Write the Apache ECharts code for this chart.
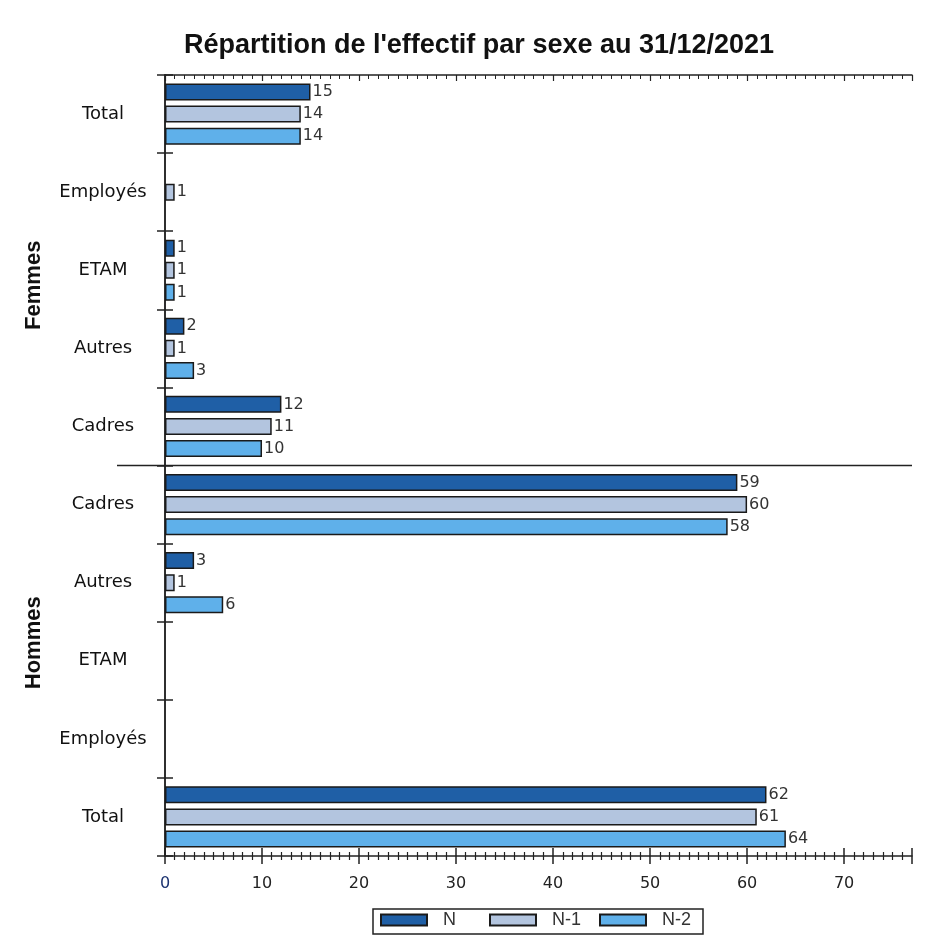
<!DOCTYPE html>
<html>
<head>
<meta charset="utf-8">
<style>
  html, body { margin: 0; padding: 0; background: #fff; }
  #chart { width: 931px; height: 940px; }
</style>
<script src="https://cdn.jsdelivr.net/npm/echarts@6/dist/echarts.min.js"></script>
</head>
<body>
<div id="chart"></div>
<script>
// categories from top to bottom
const sexes = ["Femmes", "Femmes", "Femmes", "Femmes", "Femmes", "Hommes", "Hommes", "Hommes", "Hommes", "Hommes"];
const categories = ["Total", "Employés", "ETAM", "Autres", "Cadres", "Cadres", "Autres", "ETAM", "Employés", "Total"];
const seriesNames = ["N", "N-1", "N-2"];
const valuesN = [15, "-", 1, 2, 12, 59, 3, "-", "-", 62];
const valuesN1 = [14, 1, 1, 1, 11, 60, 1, "-", "-", 61];
const valuesN2 = [14, "-", 1, 3, 10, 58, 6, "-", "-", 64];
const xTicks = [0, 10, 20, 30, 40, 50, 60, 70];

const axisKeys = categories.map((c, i) => sexes[i] + "|" + c);
const AXIS_COLOR = "#222";
const FONT = "DejaVu Sans";
const legendLefts = [380, 489, 599];

const chart = echarts.init(document.getElementById("chart"));

function barSeries(name, data, color) {
  return {
    name,
    type: "bar",
    data,
    barWidth: 17,
    barGap: "30%",
    itemStyle: { color, borderColor: "#1a1a1a", borderWidth: 1.5 },
    label: {
      show: true,
      position: "right",
      distance: 2,
      color: "#333",
      fontFamily: FONT,
      fontSize: 16
    }
  };
}

// one legend per item so the items sit on a fixed pitch like the original
const legends = seriesNames.map((name, i) => ({
  data: [name],
  icon: "rect",
  left: legendLefts[i],
  top: 911,
  padding: 0,
  itemWidth: 46,
  itemHeight: 11,
  textStyle: { fontFamily: "Liberation Sans", fontSize: 18, color: "#333", padding: [0, 0, 0, 11] }
}));

const xBase = { type: "value", min: 0, max: 77, interval: 10, splitLine: { show: false } };
const yBase = {
  type: "category",
  data: axisKeys,
  inverse: true,
  axisLine: { show: true, lineStyle: { color: AXIS_COLOR, width: 1.5 } },
  splitLine: { show: false }
};

chart.setOption({
  animation: false,
  title: {
    text: "Répartition de l'effectif par sexe au 31/12/2021",
    left: 474,
    textAlign: "center",
    top: 27,
    textStyle: { fontFamily: "Liberation Sans", fontWeight: "bold", fontSize: 27, color: "#111" }
  },
  legend: legends,
  grid: { left: 165, right: 19, top: 75, bottom: 84 },
  xAxis: [
    Object.assign({}, xBase, {
      position: "bottom",
      axisLine: { show: true, lineStyle: { color: AXIS_COLOR, width: 1.5 } },
      axisTick: { show: true, length: 8, lineStyle: { color: AXIS_COLOR, width: 1.5 } },
      minorTick: { show: true, splitNumber: 10, length: 4, lineStyle: { color: AXIS_COLOR, width: 1.2 } },
      axisLabel: {
        showMaxLabel: false,
        margin: 20,
        fontFamily: FONT,
        fontSize: 16,
        color: "#222",
        formatter: v => (v === 0 ? "{zero|0}" : xTicks.includes(v) ? String(v) : ""),
        rich: { zero: { color: "#1c3370", fontFamily: FONT, fontSize: 16 } }
      }
    }),
    Object.assign({}, xBase, {
      position: "bottom",
      axisLine: { show: false },
      axisTick: { show: true, inside: true, length: 8, lineStyle: { color: AXIS_COLOR, width: 1.5 } },
      minorTick: { show: true, splitNumber: 10, length: 4, lineStyle: { color: AXIS_COLOR, width: 1.2 } },
      axisLabel: { show: false }
    }),
    Object.assign({}, xBase, {
      position: "top",
      axisLine: { show: true, lineStyle: { color: AXIS_COLOR, width: 1.5 } },
      axisTick: { show: true, inside: true, length: 6, lineStyle: { color: AXIS_COLOR, width: 1.2 } },
      minorTick: { show: true, splitNumber: 10, length: 4, lineStyle: { color: AXIS_COLOR, width: 1 } },
      axisLabel: { show: false }
    })
  ],
  yAxis: [
    Object.assign({}, yBase, {
      position: "left",
      axisTick: { show: true, length: 8, lineStyle: { color: AXIS_COLOR, width: 1.5 } },
      axisLabel: {
        margin: 62,
        align: "center",
        fontFamily: FONT,
        fontSize: 18,
        color: "#111",
        formatter: v => v.split("|")[1]
      }
    }),
    Object.assign({}, yBase, {
      position: "left",
      axisLine: { show: false },
      axisTick: { show: true, inside: true, length: 8, lineStyle: { color: AXIS_COLOR, width: 1.5 } },
      axisLabel: { show: false }
    }),
    Object.assign({}, yBase, {
      position: "right",
      axisTick: { show: true, inside: true, length: 6, lineStyle: { color: AXIS_COLOR, width: 1.5 } },
      axisLabel: { show: false }
    })
  ],
  series: [
    barSeries(seriesNames[0], valuesN, "#1f5fa6"),
    barSeries(seriesNames[1], valuesN1, "#b3c5df"),
    barSeries(seriesNames[2], valuesN2, "#5fb0ea")
  ]
});

// separator between the two groups, group titles and legend frame
function drawGroups() {
  const yTop = chart.convertToPixel({ yAxisIndex: 0 }, axisKeys[4]);
  const yBot = chart.convertToPixel({ yAxisIndex: 0 }, axisKeys[5]);
  const ySep = (yTop + yBot) / 2;
  const yFirst = chart.convertToPixel({ yAxisIndex: 0 }, axisKeys[0]);
  const yLast = chart.convertToPixel({ yAxisIndex: 0 }, axisKeys[9]);
  const half = (yBot - yTop) / 2;
  const xRight = chart.convertToPixel({ xAxisIndex: 0 }, 77);
  const groupText = (text, y) => ({
    type: "text",
    x: 34,
    y,
    rotation: Math.PI / 2,
    style: {
      text,
      fontFamily: "Liberation Sans",
      fontWeight: "bold",
      fontSize: 22,
      fill: "#111",
      align: "center",
      verticalAlign: "middle"
    }
  });
  chart.setOption({
    graphic: [
      {
        type: "line",
        shape: { x1: 117, y1: ySep, x2: xRight, y2: ySep },
        style: { stroke: "#222", lineWidth: 1.5 }
      },
      groupText("Femmes", (yFirst - half + ySep) / 2 + 15),
      groupText("Hommes", (ySep + yLast + half) / 2 - 18),
      {
        type: "rect",
        shape: { x: 373, y: 909, width: 330, height: 25 },
        style: { fill: null, stroke: "#222", lineWidth: 1.5 }
      }
    ]
  });
}
drawGroups();
</script>
</body>
</html>
